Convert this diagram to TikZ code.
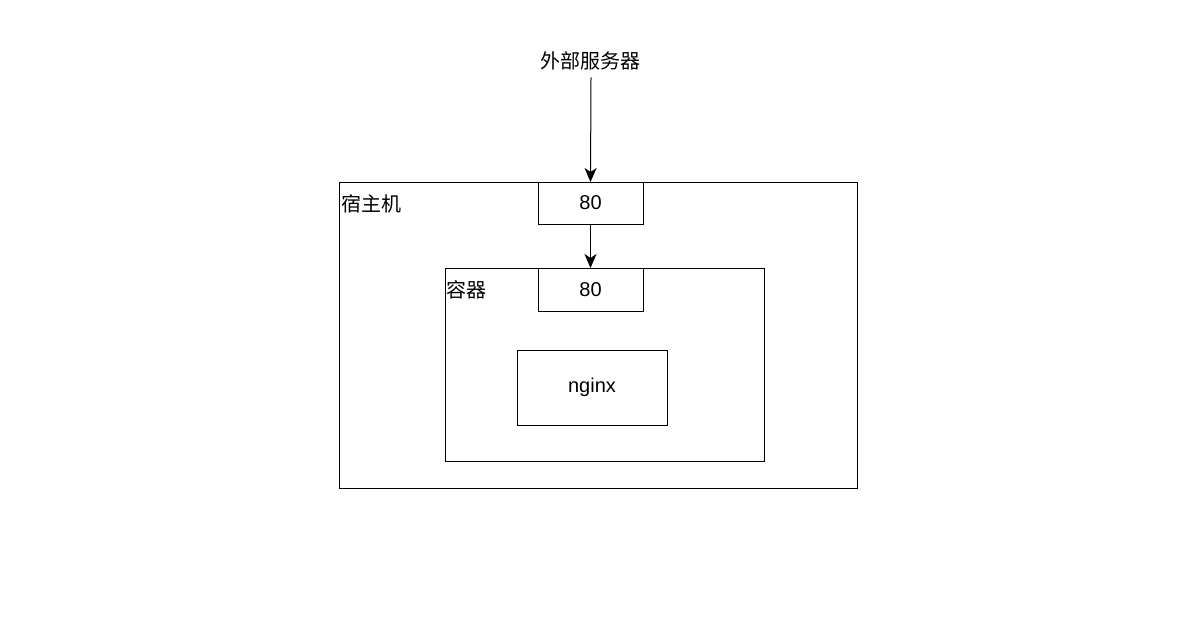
\documentclass[tikz,border=0pt]{standalone}
\usepackage{fontspec}
\setmainfont{Liberation Sans}
\newfontfamily\cjk{Noto Sans CJK SC}
\usepackage{xcolor}
\usetikzlibrary{arrows.meta}

\tikzset{
    box/.style={draw, line width=1pt, inner sep=0pt, outer sep=0pt},
    lbl/.style={inner sep=0pt, font=\fontsize{20}{23}\selectfont\cjk},
    flow/.style={line width=1pt, -{Stealth[length=14pt,width=12pt,inset=4pt]}}
}

\begin{document}
\begin{tikzpicture}[x=1pt, y=-1pt, font=\fontsize{20}{23}\selectfont]
        \useasboundingbox[fill=white] (0,0) rectangle (1182,618);

        % outer machine and the container inside it
        \node[box, minimum width=518pt, minimum height=306pt] (host) at (598,335) {};
        \node[box, minimum width=319pt, minimum height=193pt] (container) at (604.5,364.5) {};
        \node[lbl, anchor=west] (hostlbl) at (341,204) {宿主机};
        \node[lbl, anchor=west] (containerlbl) at (446,290) {容器};

        % ports and the service
        \node[box, minimum width=105pt, minimum height=42pt] (hostport) at (590.5,203) {80};
        \node[box, minimum width=105pt, minimum height=43pt] (containerport) at (590.5,289.5) {80};
        \node[box, minimum width=150pt, minimum height=75pt] (nginx) at (592,387.5) {nginx};

        % outside caller
        \node[lbl] (server) at (590,61) {外部服务器};

        \draw[flow] (server.south) ++(1,7) coordinate (s) -- (hostport.north);
        \draw[flow] (hostport) -- (containerport);
    \end{tikzpicture}
\end{document}
